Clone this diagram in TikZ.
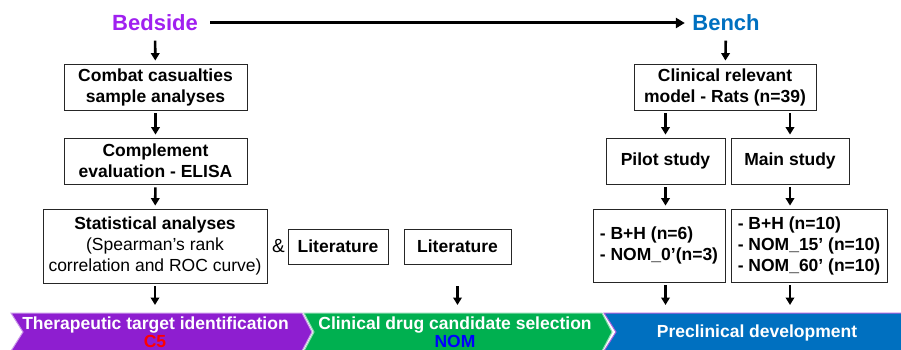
\documentclass[tikz,border=0pt]{standalone}
\usepackage{fontspec}
\setmainfont{Liberation Sans}
\usetikzlibrary{arrows.meta}
\definecolor{bedsidepurple}{RGB}{160,32,240}
\definecolor{benchblue}{RGB}{0,112,192}
\definecolor{targetpurple}{RGB}{142,30,208}
\definecolor{druggreen}{RGB}{0,176,80}
\definecolor{preblue}{RGB}{0,112,192}
\tikzset{
  box/.style={draw=black!85, line width=0.8pt, fill=white, inner sep=0pt,
    font=\fontsize{17.5}{21}\selectfont\bfseries, align=center},
  arr/.style={line width=2.6pt, -{Triangle[width=8.5pt,length=7.5pt]},
    shorten <=3pt, shorten >=3pt},
  bandtext/.style={text=white, font=\fontsize{17.5}{21}\selectfont\bfseries},
  headline/.style={font=\fontsize{22}{26}\selectfont\bfseries}
}
\begin{document}
\begin{tikzpicture}[x=1pt,y=-1pt]
  \useasboundingbox (0,0) rectangle (901,350);
  \node[headline, text=bedsidepurple] (bedside) at (155,23) {Bedside};
  \node[headline, text=benchblue] (bench) at (726,23) {Bench};
  \draw[line width=3pt, -{Triangle[width=10pt,length=9pt]}, shorten <=9pt, shorten >=4pt] (bedside.east) -- (bench.west);

  \node[box, minimum width=183pt, minimum height=46pt] (combat) at (155.5,87) {Combat casualties\\sample analyses};
  \node[box, minimum width=183pt, minimum height=46pt] (elisa) at (155.5,161) {Complement\\evaluation - ELISA};
  \node[box, minimum width=224pt, minimum height=74pt] (stat) at (155,246) {Statistical analyses\\\mdseries(Spearman’s rank\\\mdseries correlation and ROC curve)};
  \node[font=\fontsize{19}{21}\selectfont] (amp) at (278.5,246) {\&};
  \node[box, minimum width=100pt, minimum height=35pt] (lit) at (338,246.5) {Literature};
  \node[box, minimum width=107pt, minimum height=35pt] (litb) at (457.5,246.5) {Literature};

  \node[box, minimum width=182pt, minimum height=46pt] (model) at (725,87) {Clinical relevant\\model - Rats (n=39)};
  \node[box, minimum width=119pt, minimum height=46pt] (pilot) at (665.5,161) {Pilot study};
  \node[box, minimum width=118pt, minimum height=46pt] (main) at (790,161) {Main study};
  \node[box, minimum width=132pt, minimum height=73pt, align=left] (pilotgroups) at (659,245.5) {- B+H (n=6)\\- NOM\_0’(n=3)};
  \node[box, minimum width=156pt, minimum height=73pt, align=left] (maingroups) at (809,245.5) {- B+H (n=10)\\- NOM\_15’ (n=10)\\- NOM\_60’ (n=10)};

  \coordinate (ribbon) at (0,313);
  \draw[arr, shorten <=6pt] (bedside) -- (combat);
  \draw[arr] (combat) -- (elisa);
  \draw[arr] (elisa) -- (stat);
  \draw[arr, shorten <=6pt] (bench) -- (model);
  \draw[arr] (pilot |- model.south) -- (pilot);
  \draw[arr] (main |- model.south) -- (main);
  \draw[arr] (pilot) -- (pilot |- pilotgroups.north);
  \draw[arr] (main) -- (main |- maingroups.north);
  \draw[arr, shorten >=8pt] (stat) -- (stat |- ribbon);
  \draw[arr, shorten >=8pt] (litb |- stat.south) -- (litb |- ribbon);
  \draw[arr, shorten >=8pt] (pilot |- pilotgroups.south) -- (pilot |- ribbon);
  \draw[arr, shorten >=8pt] (main |- maingroups.south) -- (main |- ribbon);

  \filldraw[fill=targetpurple, draw=targetpurple!45!white, line width=1pt] (11,313) -- (302,313) -- (312,332) -- (302,351) -- (11,351) -- (23,332) -- cycle;
  \filldraw[fill=druggreen, draw=druggreen!45!white, line width=1pt] (304,313) -- (602,313) -- (612,332) -- (602,351) -- (304,351) -- (314,332) -- cycle;
  \filldraw[fill=preblue, draw=targetpurple!70!white, line width=1pt] (604,313) -- (905,313) -- (905,351) -- (604,351) -- (616,332) -- cycle;
  \node[bandtext] (target) at (155.5,325) {Therapeutic target identification};
  \node[text=red, font=\fontsize{17.5}{21}\selectfont\bfseries] (cfive) at (155,341) {C5};
  \node[bandtext] (drug) at (455,325) {Clinical drug candidate selection};
  \node[text=blue, font=\fontsize{17.5}{21}\selectfont\bfseries] (nom) at (455,341) {NOM};
  \node[bandtext] (preclin) at (757,333) {Preclinical development};
\end{tikzpicture}
\end{document}
